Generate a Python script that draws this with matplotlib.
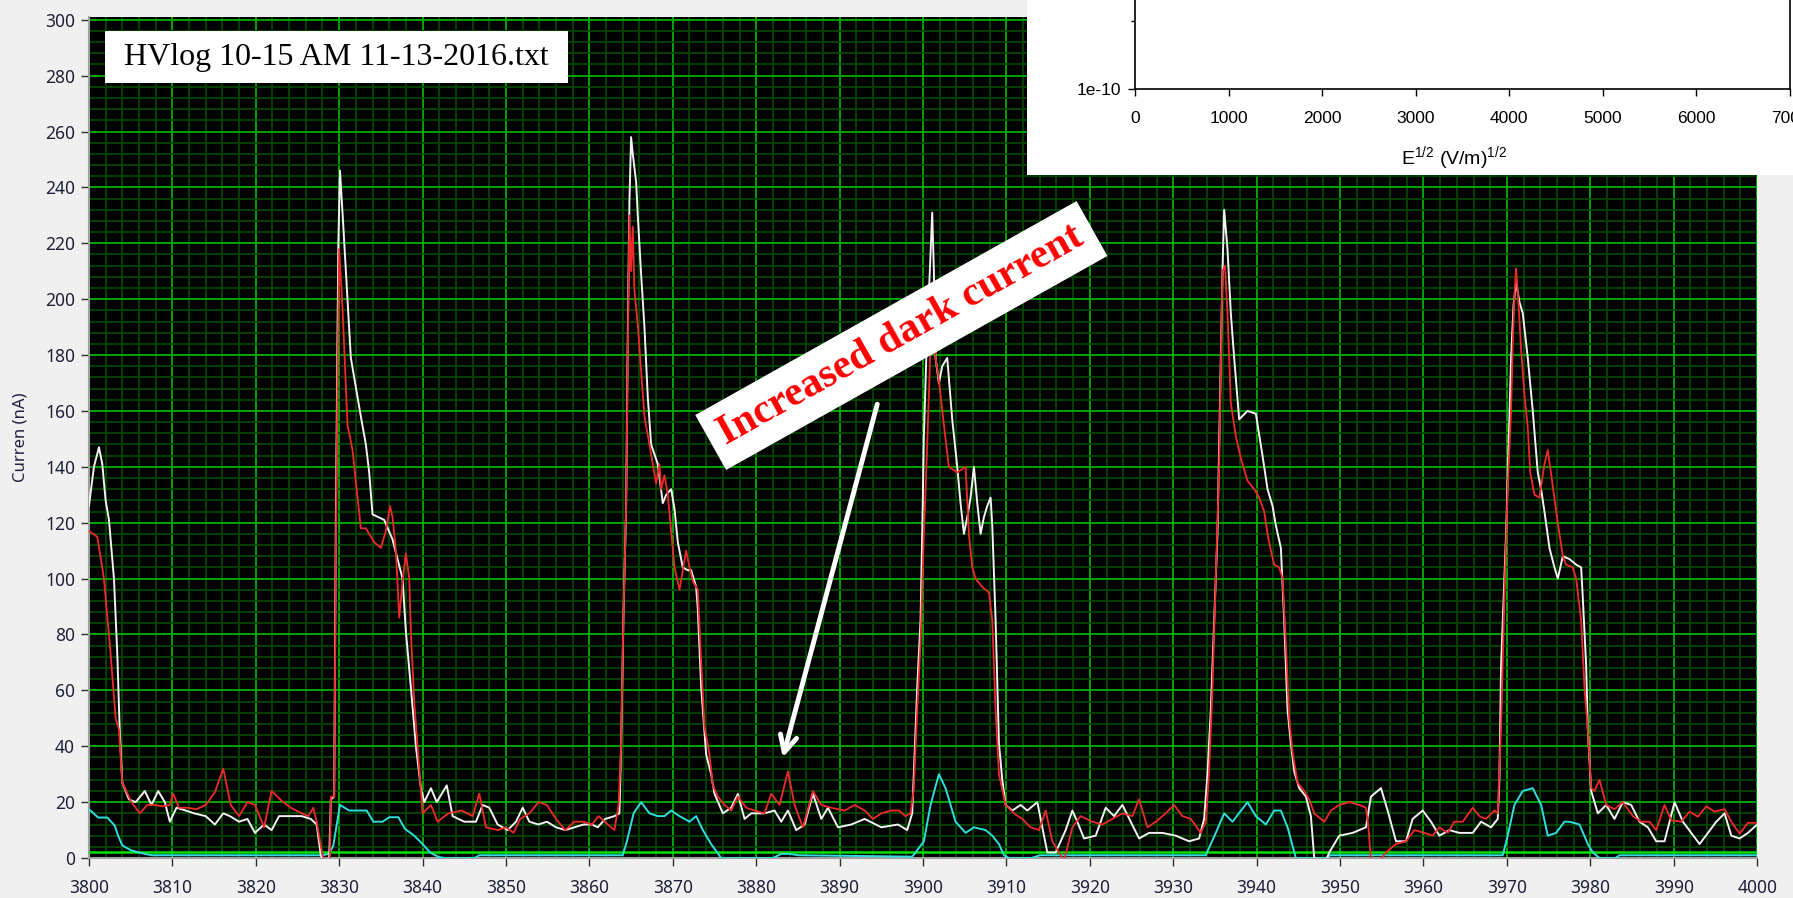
import matplotlib
matplotlib.use("Agg")
import matplotlib.pyplot as plt
from matplotlib.patches import Rectangle
import numpy as np

# ---- data (x = time index, y = current in nA) ----
white_x = [3800, 3800.6, 3801.2, 3801.6, 3802.0, 3802.4, 3803.0, 3803.4, 3803.7, 3804.0,
           3804.8, 3805.6, 3806.7, 3807.5, 3808.3, 3809.1, 3809.7, 3810.5, 3811.6, 3812.6,
           3814.0, 3815.1, 3816.1, 3816.9, 3818.0, 3819.0, 3819.9, 3821.0, 3821.9, 3822.8,
           3824.2, 3825.5, 3826.6, 3827.3, 3827.8, 3828.1, 3828.8, 3829.0, 3829.4, 3829.6,
           3829.9, 3830.1, 3830.5, 3831.0, 3831.4, 3832.6, 3833.2, 3833.6, 3834.0, 3835.4,
           3836.4, 3837.6, 3838.0, 3838.6, 3839.2, 3839.8, 3840.2, 3841.0, 3841.7, 3842.9,
           3843.6, 3845.0, 3846.4, 3847.2, 3848.0, 3849.0, 3850.2, 3851.2, 3852.0, 3852.8,
           3853.9, 3854.9, 3856.0, 3857.1, 3858.2, 3859.3, 3860.3, 3861.0, 3861.9, 3863.0,
           3863.6, 3863.8, 3864.1, 3864.4, 3864.6, 3864.8, 3865.0, 3865.2, 3865.6, 3865.8,
           3866.2, 3866.6, 3867.0, 3867.4, 3868.2, 3868.8, 3869.2, 3869.8, 3870.2, 3870.6,
           3871.2, 3871.8, 3872.2, 3872.8, 3873.0, 3873.4, 3874.0, 3874.6, 3875.0, 3876.0,
           3877.0, 3877.8, 3878.6, 3879.4, 3881.0, 3882.2, 3883.0, 3883.8, 3884.8, 3885.8,
           3886.8, 3887.8, 3888.6, 3889.8, 3891.4, 3893.0, 3895.0, 3897.0, 3898.1, 3898.7,
           3899.0, 3899.3, 3899.7, 3899.9, 3900.1, 3900.4, 3900.7, 3901.1, 3901.3, 3901.5,
           3901.9, 3902.3, 3902.9, 3903.5, 3904.1, 3904.5, 3904.9, 3905.3, 3905.7, 3906.1,
           3906.5, 3906.9, 3907.3, 3907.7, 3908.1, 3908.3, 3908.7, 3909.1, 3909.5, 3909.9,
           3910.7, 3911.7, 3912.5, 3913.7, 3914.3, 3914.9, 3915.9, 3917.1, 3917.9, 3918.5,
           3919.3, 3920.7, 3921.9, 3922.9, 3923.9, 3924.9, 3925.9, 3927.1, 3928.7, 3930.3,
           3931.9, 3933.1, 3933.7, 3934.1, 3934.5, 3934.9, 3935.3, 3935.6, 3935.9, 3936.1,
           3936.5, 3936.9, 3937.3, 3937.9, 3938.9, 3939.9, 3940.7, 3941.3, 3941.9, 3942.3,
           3942.9, 3943.3, 3943.7, 3944.1, 3944.5, 3945.1, 3945.9, 3946.5, 3946.9, 3948.3,
           3948.7, 3949.9, 3951.5, 3953.1, 3953.7, 3954.9, 3955.7, 3956.7, 3957.9, 3958.7,
           3959.9, 3960.9, 3961.9, 3963.1, 3964.3, 3965.9, 3966.9, 3968.1, 3968.9, 3969.1,
           3969.3, 3969.6, 3969.9, 3970.2, 3970.5, 3970.8, 3971.1, 3971.5, 3971.9, 3972.5,
           3973.1, 3973.7, 3974.1, 3974.5, 3975.1, 3975.7, 3976.1, 3976.7, 3977.5, 3978.3,
           3978.9, 3979.1, 3979.5, 3979.7, 3980.1, 3980.9, 3981.9, 3982.9, 3983.9, 3984.9,
           3985.9, 3986.9, 3987.9, 3988.9, 3990.1, 3991.1, 3992.1, 3993.1, 3994.1, 3995.1,
           3996.1, 3996.9, 3997.9, 3998.9, 4000]
white_y = [126, 140, 147, 141, 128, 121, 100, 73, 45, 27,
           21, 20, 24, 19, 24, 20, 13, 18, 17, 16,
           15, 12, 16, 15, 13, 14, 9, 12, 10, 15,
           15, 15, 14, 12, 1, -1, -1, 21, 22, 120,
           220, 246, 226, 200, 179, 158, 148, 138, 123, 121,
           114, 100, 81, 61, 40, 25, 20, 25, 20, 26,
           15, 13, 13, 19, 18, 12, 10, 13, 18, 13,
           12, 13, 11, 10, 11, 12, 12, 11, 14, 15,
           16, 40, 89, 125, 186, 235, 258, 252, 242, 230,
           209, 190, 165, 148, 141, 127, 130, 132, 125, 113,
           104, 103, 103, 97, 89, 61, 37, 30, 23, 16,
           18, 23, 14, 16, 16, 17, 13, 17, 10, 12,
           23, 14, 18, 11, 12, 14, 11, 12, 10, 16,
           38, 61, 85, 116, 151, 180, 202, 231, 210, 179,
           170, 176, 179, 157, 140, 127, 116, 122, 129, 140,
           127, 116, 122, 126, 129, 119, 85, 41, 28, 19,
           17, 19, 17, 20, 11, 2, 2, 10, 17, 13,
           7, 8, 18, 15, 19, 13, 7, 9, 9, 8,
           6, 7, 14, 30, 53, 85, 116, 163, 210, 232,
           218, 195, 179, 157, 160, 159, 144, 132, 126, 119,
           111, 85, 53, 41, 31, 25, 22, 15, 0, -1,
           2, 8, 9, 11, 22, 25, 17, 6, 6, 14,
           17, 13, 8, 10, 9, 9, 13, 11, 14, 28,
           69, 93, 116, 148, 179, 198, 206, 199, 195, 179,
           160, 138, 132, 124, 111, 104, 100, 108, 107, 105,
           104, 93, 69, 46, 24, 16, 19, 14, 20, 19,
           13, 11, 6, 6, 20, 13, 9, 5, 9, 13,
           16, 8, 7, 9, 12]

red_x = [3800, 3801.0, 3801.8, 3802.6, 3803.2, 3803.6, 3804.0, 3805.1, 3806.1, 3807.0,
         3807.8, 3808.9, 3809.7, 3810.1, 3810.8, 3811.8, 3812.9, 3814.0, 3815.1, 3816.1,
         3817.0, 3818.0, 3819.0, 3819.9, 3821.0, 3821.9, 3823.1, 3824.2, 3825.5, 3826.3,
         3826.9, 3827.3, 3828.0, 3828.3, 3828.9, 3829.0, 3829.4, 3829.6, 3829.8, 3830.0,
         3830.4, 3831.0, 3831.6, 3832.6, 3833.2, 3834.2, 3835.0, 3835.6, 3836.1, 3836.4,
         3836.8, 3837.2, 3837.6, 3838.0, 3838.4, 3838.6, 3839.0, 3839.4, 3840.0, 3841.0,
         3841.8, 3843.1, 3844.7, 3846.0, 3846.8, 3847.6, 3849.0, 3850.0, 3850.9, 3851.7,
         3852.8, 3853.9, 3854.9, 3856.0, 3857.1, 3858.2, 3859.3, 3860.3, 3861.1, 3862.2,
         3863.0, 3863.5, 3863.8, 3864.1, 3864.4, 3864.6, 3864.8, 3865.0, 3865.2, 3865.4,
         3865.8, 3866.2, 3866.6, 3867.2, 3867.6, 3868.0, 3868.4, 3868.6, 3869.0, 3869.4,
         3869.8, 3870.2, 3870.8, 3871.2, 3871.6, 3872.0, 3872.4, 3873.0, 3873.4, 3873.8,
         3874.4, 3874.8, 3875.4, 3876.2, 3877.0, 3877.8, 3878.8, 3879.8, 3881.0, 3881.8,
         3882.8, 3883.8, 3884.6, 3885.6, 3886.8, 3887.8, 3889.0, 3890.6, 3891.8, 3893.0,
         3894.0, 3895.0, 3896.2, 3897.1, 3897.9, 3898.5, 3898.9, 3899.3, 3899.7, 3900.1,
         3900.5, 3900.9, 3901.1, 3901.5, 3901.9, 3902.5, 3903.1, 3904.1, 3905.1, 3905.5,
         3905.9, 3906.3, 3907.1, 3907.9, 3908.3, 3908.7, 3909.1, 3909.9, 3910.9, 3911.9,
         3912.9, 3913.9, 3914.7, 3915.5, 3916.3, 3916.9, 3917.9, 3918.9, 3920.3, 3921.5,
         3922.7, 3923.9, 3925.1, 3925.9, 3926.9, 3927.9, 3929.1, 3930.1, 3931.1, 3932.1,
         3933.3, 3933.9, 3934.3, 3934.7, 3935.1, 3935.5, 3935.7, 3935.9, 3936.2, 3936.5,
         3936.9, 3937.5, 3938.1, 3938.9, 3939.7, 3940.3, 3940.9, 3941.3, 3941.7, 3942.1,
         3942.7, 3943.1, 3943.5, 3943.9, 3944.3, 3944.9, 3945.7, 3946.3, 3946.9, 3948.1,
         3948.9, 3949.9, 3951.1, 3952.3, 3953.1, 3953.4, 3953.7, 3954.7, 3955.5, 3956.7,
         3957.9, 3958.9, 3960.1, 3961.1, 3961.9, 3962.9, 3963.7, 3964.7, 3965.9, 3966.7,
         3967.5, 3968.5, 3968.9, 3969.3, 3969.7, 3970.1, 3970.5, 3970.7, 3970.9, 3971.1,
         3971.4, 3971.7, 3972.1, 3972.5, 3972.8, 3973.3, 3973.9, 3974.5, 3974.9, 3975.5,
         3976.1, 3976.7, 3977.1, 3977.9, 3978.3, 3978.9, 3979.3, 3979.7, 3980.1, 3980.5,
         3981.1, 3981.9, 3982.9, 3983.9, 3985.1, 3986.1, 3987.1, 3987.9, 3988.9, 3989.7,
         3990.9, 3991.9, 3992.9, 3993.9, 3994.9, 3996.1, 3996.9, 3997.9, 3998.9, 4000]
red_y = [117, 115, 100, 73, 50, 46, 27, 20, 16, 19,
         19, 18.5, 19, 23, 18, 18, 17.5, 19, 23.5, 32,
         19, 15, 20, 19, 11, 24, 20.5, 18, 16, 15,
         18, 13, 1, -1, -1, 22, 22, 109, 171, 218,
         197, 155, 146, 118, 118, 113, 111, 117, 126, 122,
         110, 86, 99, 109, 100, 81, 56, 40, 16, 19,
         13, 16, 17, 15, 23, 11, 10, 11, 9, 14,
         16, 20, 19, 14, 10, 13, 13, 12, 15, 12,
         10, 19, 40, 89, 125, 180, 230, 210, 226, 203,
         191, 174, 158, 148, 141, 134, 141, 132, 137, 130,
         117, 104, 96, 103, 110, 104, 99, 96, 70, 47,
         37, 26, 22, 19, 17, 22, 18, 17, 16, 23,
         19, 31, 19, 11, 24, 19, 18, 17, 19, 17,
         14, 16, 17, 17, 15, 16, 25, 53, 77, 116,
         148, 184, 206, 179, 171, 155, 140, 138, 140, 116,
         104, 100, 97, 95, 85, 53, 30, 19, 16, 14,
         11, 10, 17, 6, 2, -1, 11, 15, 13, 12,
         14, 16, 15, 21, 11, 13, 16, 19, 15, 14,
         9, 13, 31, 61, 100, 140, 176, 210, 212, 195,
         163, 151, 143, 135, 132, 129, 124, 116, 110, 105,
         104, 100, 77, 50, 38, 27, 24, 21, 16, 13,
         17, 19, 20, 19, 18, 11, -1, -1, 2, 5,
         6, 10, 9, 8, 11, 9, 13, 13, 18, 15,
         14, 17, 16, 47, 93, 133, 160, 184, 201, 211,
         198, 182, 166, 154, 138, 130, 129, 141, 146, 133,
         120, 108, 105, 104, 100, 85, 61, 46, 25, 24,
         28, 19, 17.5, 20, 15, 13, 13, 10, 19, 13.5,
         13, 16.6, 14.8, 18.5, 16.6, 17.5, 13, 8.7, 12.6, 12.6]

cyan_x = [3800, 3801.1, 3802.2, 3803.1, 3803.5, 3804.0, 3805.1, 3805.9, 3806.7, 3807.5,
          3828.0, 3828.8, 3829.3, 3830.1, 3831.2, 3833.3, 3834.1, 3835.2, 3836.0, 3837.1,
          3837.9, 3839.0, 3840.0, 3840.9, 3841.9, 3842.7, 3846.2, 3846.8, 3864.0, 3864.5,
          3865.3, 3866.2, 3867.2, 3868.2, 3869.0, 3869.8, 3870.8, 3872.0, 3872.8, 3873.6,
          3874.6, 3875.8, 3882.0, 3883.0, 3884.0, 3885.0, 3898.7, 3899.1, 3900.1, 3900.9,
          3901.9, 3902.7, 3903.9, 3905.1, 3906.1, 3907.5, 3908.3, 3909.1, 3909.7, 3910.3,
          3913.0, 3914.0, 3933.9, 3935.1, 3936.1, 3937.1, 3938.9, 3939.9, 3941.1, 3942.1,
          3942.9, 3943.7, 3944.7, 3948.3, 3948.8, 3969.5, 3970.1, 3970.9, 3971.9, 3973.1,
          3974.1, 3974.9, 3975.9, 3976.9, 3977.5, 3978.7, 3979.7, 3980.3, 3981.1, 3983.0,
          3983.5, 4000]
cyan_y = [17.5, 14.5, 14.5, 11.6, 8, 4.5, 2.7, 2.1, 1.5, 1,
          1, 1.5, 4.5, 19, 17, 17, 13, 13, 14.6, 14.6,
          10.4, 8, 5, 2, 0.4, 0, 0, 1, 1, 6,
          16, 20, 16, 15, 15, 17, 15, 13, 15, 10,
          5, 0, 0, 1.5, 1.5, 1, 0.5, 2, 6, 19,
          30, 25, 13, 9, 11, 10, 8, 5, 1, 0,
          0, 1, 1, 9, 16, 13, 20, 15, 12, 17,
          17, 11, 0, 0, 1, 1, 8, 19, 24, 25,
          19, 8, 9, 13, 13, 12, 5, 2, 0, 0,
          1, 1]

level_x = [3800, 4000]
level_y = [2, 2]

x_ticks = np.arange(3800, 4001, 10)
y_ticks = np.arange(0, 301, 20)
inset_ticks = np.arange(0, 7001, 1000)

# ------------------------------------------------------------------
fig = plt.figure(figsize=(17.93, 8.98), dpi=100, facecolor='#f0f0f0')
ax = fig.add_axes([0.0496, 0.0445, 0.9304, 0.9366])
ax.set_facecolor('black')

ax.set_xlim(3800, 4000)
ax.set_ylim(0, 301)
ax.set_xticks(x_ticks)
ax.set_yticks(y_ticks)
ax.set_xticks(np.arange(3800, 4001, 2), minor=True)
ax.set_yticks(np.arange(0, 301, 4), minor=True)
ax.grid(which='major', color='#00a400', linewidth=1.4)
ax.grid(which='minor', color='#004600', linewidth=1.3)
ax.set_axisbelow(True)
ax.tick_params(which='minor', length=0)
ax.tick_params(which='major', length=6, width=1, color='#303030', labelsize=12.5,
               labelcolor='#20203a')
ax.tick_params(axis='x', pad=9)
ax.tick_params(axis='y', pad=4)
for lab in ax.get_xticklabels() + ax.get_yticklabels():
    lab.set_family('Noto Sans')
for s in ['top', 'right']:
    ax.spines[s].set_visible(False)
for s in ['left', 'bottom']:
    ax.spines[s].set_color('#a0a0a0')
    ax.spines[s].set_linewidth(1.5)

ax.plot(level_x, level_y, color='#00e000', linewidth=1.8, zorder=3)
ax.plot(cyan_x, cyan_y, color='#30dede', linewidth=1.4, zorder=4)
ax.plot(white_x, white_y, color='#f2f2f2', linewidth=1.4, zorder=5)
ax.plot(red_x, red_y, color='#f02a2a', linewidth=1.3, zorder=6)

fig.text(0.0115, 0.5134, 'Curren (nA)', rotation=90, ha='center', va='center',
         fontsize=12, family='Noto Sans', color='#20203a')

# file name label
fig.patches.append(Rectangle((105 / 1793, 1 - 83 / 898), 463 / 1793, 52 / 898,
                             transform=fig.transFigure, facecolor='white',
                             edgecolor='none', zorder=5))
fig.text(336.5 / 1793, 1 - 58 / 898, 'HVlog 10-15 AM 11-13-2016.txt', ha='center',
         va='center', fontsize=23, family='Liberation Serif', color='black', zorder=6)

# annotation
ax.annotate('', xy=(3883.1, 35), xytext=(3894.6, 163.4),
            arrowprops=dict(arrowstyle='->', color='white', lw=3.5,
                            mutation_scale=30), zorder=8)
ax.text(3897.4, 187, 'Increased dark current', rotation=29.3, ha='center', va='center',
        rotation_mode='anchor', fontsize=30, fontweight='bold',
        family='Liberation Serif', color='#ff0000', zorder=9,
        bbox=dict(boxstyle='square,pad=0.3', facecolor='white', edgecolor='none'))

# pasted inset of another figure (top right)
fig.patches.append(Rectangle((1027 / 1793, 1 - 175 / 898), 1 - 1027 / 1793, 175 / 898,
                             transform=fig.transFigure, facecolor='white',
                             edgecolor='none', zorder=10))
ins = fig.add_axes([1135 / 1793, 1 - 89 / 898, 655 / 1793, 0.2], zorder=11)
ins.set_facecolor('white')
ins.set_xlim(0, 7000)
ins.set_ylim(0, 1)
ins.set_xticks(inset_ticks)
ins.set_yticks([0])
ins.set_yticklabels(['1e-10'])
ins.set_yticks([0.378], minor=True)
ins.tick_params(which='major', direction='out', length=5, width=1, labelsize=12.5,
                color='black')
ins.tick_params(axis='x', pad=11)
ins.tick_params(axis='y', pad=5)
ins.tick_params(which='minor', direction='out', length=3, width=1)
for lab in ins.get_xticklabels() + ins.get_yticklabels():
    lab.set_family('Liberation Sans')
for s in ins.spines.values():
    s.set_linewidth(1.2)
plt.rcParams['mathtext.default'] = 'regular'
fig.text(1454.5 / 1793, 1 - 158 / 898, r'E$^{1/2}$ (V/m)$^{1/2}$', ha='center',
         va='center', fontsize=14, family='Liberation Sans', zorder=12)

fig.savefig('out.png', dpi=100, facecolor=fig.get_facecolor())
